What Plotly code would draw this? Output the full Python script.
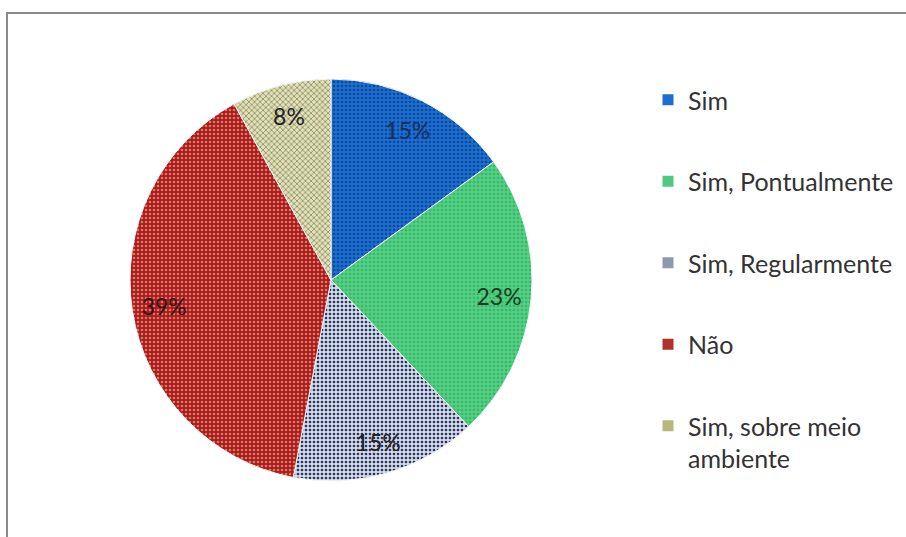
import plotly.graph_objects as go

# ---- data ----
categories = ["Sim", "Sim, Pontualmente", "Sim, Regularmente", "Não", "Sim, sobre meio<br>ambiente"]
values = [15, 23, 15, 39, 8]

# ---- styles ----
bg_colors = ["#1D6ED2", "#52D083", "#D3D9E6", "#A61C18", "#E0E0BE"]
fg_colors = ["#0C4898", "#3AB56B", "#26325F", "#DE746E", "#8A8A50"]
shapes_pat = [".", ".", ".", ".", "x"]
label_colors = ["#15305E", "#153D22", "#222222", "#3A1010", "#222222"]
legend_colors = ["#1D6ED2", "#4FC884", "#8E98AE", "#B0302A", "#B6B87E"]

W, H = 906, 537
cx, cy, R = 331, 280, 201
dom_x = [(cx - R) / W, (cx + R) / W]
dom_y = [1 - (cy + R) / H, 1 - (cy - R) / H]

fig = go.Figure()

# main pie with patterns
fig.add_trace(go.Pie(
    labels=categories, values=values, sort=False, direction="clockwise", rotation=0,
    domain=dict(x=dom_x, y=dom_y),
    marker=dict(colors=bg_colors,
                line=dict(color="#F4F4F4", width=1),
                pattern=dict(shape=shapes_pat, fgcolor=fg_colors, bgcolor=bg_colors,
                             size=4, solidity=0.35, fillmode="replace")),
    textinfo="none", showlegend=False, hoverinfo="label+percent",
))

# transparent ring carrying the percentage labels near the rim
fig.add_trace(go.Pie(
    labels=categories, values=values, sort=False, direction="clockwise", rotation=0,
    domain=dict(x=dom_x, y=dom_y), hole=0.68,
    marker=dict(colors=["rgba(0,0,0,0)"] * len(values), line=dict(width=0)),
    texttemplate="%{value}%", textposition="inside", insidetextorientation="horizontal",
    textfont=dict(family="Lato", size=23, color=label_colors),
    showlegend=False, hoverinfo="skip",
))

# legend entries (one group each so they can be spaced apart)
for i, name in enumerate(categories):
    fig.add_trace(go.Scatter(
        x=[None], y=[None], mode="markers", name=name,
        marker=dict(symbol="square", size=11, color=legend_colors[i]),
        legendgroup=f"g{i}", showlegend=True, hoverinfo="skip",
    ))

fig.update_layout(
    width=W, height=H,
    margin=dict(l=0, r=0, t=0, b=0),
    paper_bgcolor="white", plot_bgcolor="white",
    xaxis=dict(visible=False), yaxis=dict(visible=False),
    legend=dict(x=648 / W, y=1 - 77 / H, xanchor="left", yanchor="top",
                font=dict(family="Lato", size=25, color="#333333"),
                tracegroupgap=46, valign="top", bgcolor="rgba(0,0,0,0)"),
    shapes=[dict(type="rect", xref="paper", yref="paper",
                 x0=7 / W, x1=1.05, y0=-0.05, y1=1 - 13 / H,
                 line=dict(color="#8A8A8A", width=2), layer="above")],
)

fig.write_html("out.html", config={"displayModeBar": False},
               post_script="document.body.style.margin='0';")
